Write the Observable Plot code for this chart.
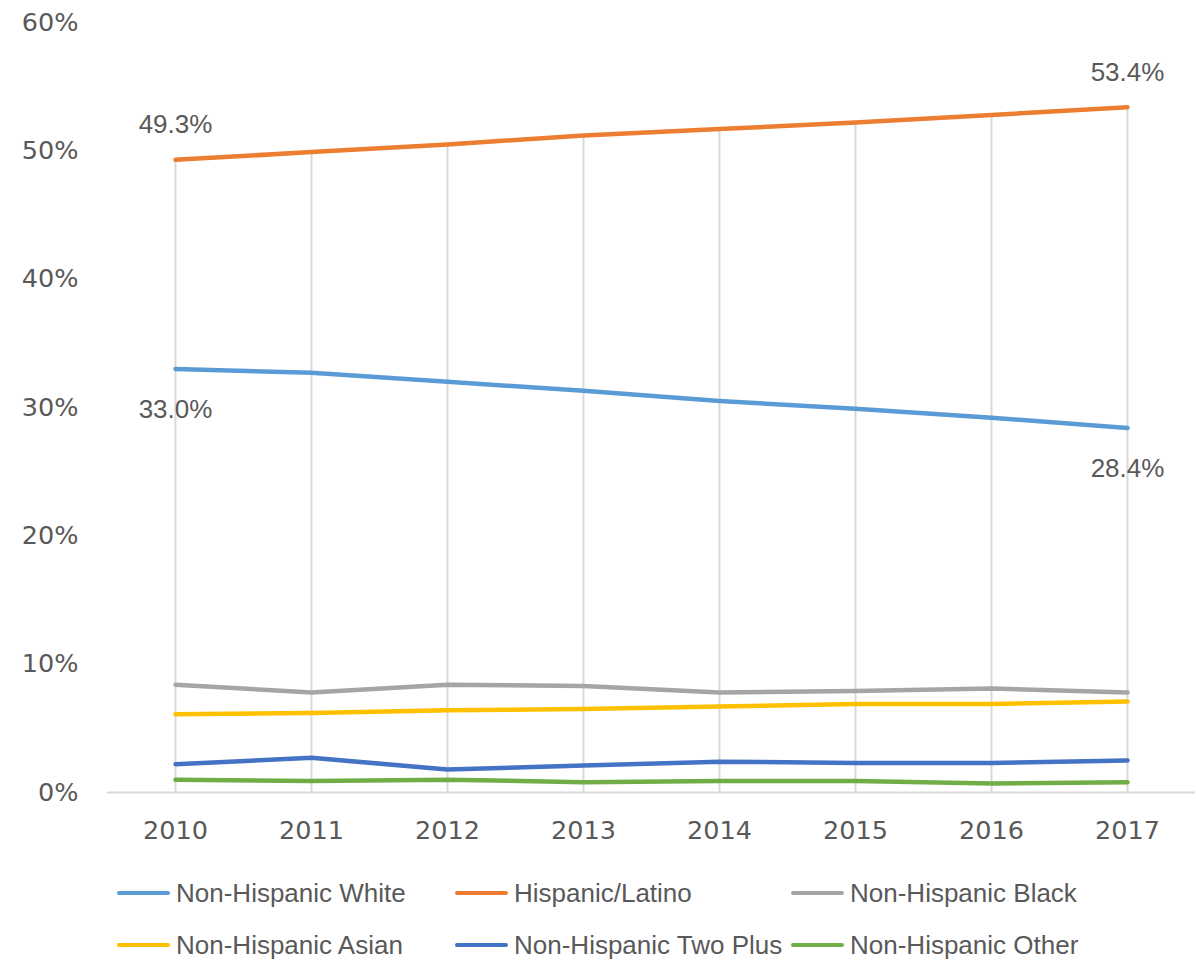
<!DOCTYPE html>
<html><head><meta charset="utf-8">
<script src="https://cdn.jsdelivr.net/npm/d3@7"></script>
<script src="https://cdn.jsdelivr.net/npm/@observablehq/plot@0.6"></script>
<style>
body{margin:0;background:#fff;}
#wrap{position:relative;width:1196px;height:960px;}
.leg{position:absolute;font-family:"Liberation Sans",Arial,sans-serif;font-size:26px;color:#595959;display:flex;align-items:center;white-space:nowrap;}
.leg span.sw{display:inline-block;width:53px;height:4px;border-radius:2px;margin-right:6px;}
</style></head>
<body><div id="wrap"></div>
<script>
const years = [2010, 2011, 2012, 2013, 2014, 2015, 2016, 2017];
const seriesNames = ["Non-Hispanic White","Hispanic/Latino","Non-Hispanic Black","Non-Hispanic Asian","Non-Hispanic Two Plus","Non-Hispanic Other"];
const seriesColors = ["#5b9bd5","#ed7d31","#a5a5a5","#ffc000","#4472c4","#70ad47"];
const white    = [33.0, 32.7, 32.0, 31.3, 30.5, 29.9, 29.2, 28.4];
const hispanic = [49.3, 49.9, 50.5, 51.2, 51.7, 52.2, 52.8, 53.4];
const black    = [8.4, 7.8, 8.4, 8.3, 7.8, 7.9, 8.1, 7.8];
const asian    = [6.1, 6.2, 6.4, 6.5, 6.7, 6.9, 6.9, 7.1];
const twoPlus  = [2.2, 2.7, 1.8, 2.1, 2.4, 2.3, 2.3, 2.5];
const other    = [1.0, 0.9, 1.0, 0.8, 0.9, 0.9, 0.7, 0.8];
const yTicks = [0, 10, 20, 30, 40, 50, 60];
const labelled = [
  {series:"Hispanic/Latino", year:2010, pos:"above"},
  {series:"Hispanic/Latino", year:2017, pos:"above"},
  {series:"Non-Hispanic White", year:2010, pos:"below"},
  {series:"Non-Hispanic White", year:2017, pos:"below"}
];

const allSeries = [white, hispanic, black, asian, twoPlus, other];
const data = [];
allSeries.forEach((vals, i) => vals.forEach((v, j) => data.push({series: seriesNames[i], year: years[j], value: v})));
const drops = years.map((y, j) => ({year: y, top: d3.max(allSeries, s => s[j])}));
const labelRows = labelled.map(l => {
  const d = data.find(r => r.series === l.series && r.year === l.year);
  return {...d, pos: l.pos};
});

const chart = Plot.plot({
  width: 1196,
  height: 860,
  marginLeft: 107,
  marginRight: 1,
  marginTop: 22,
  marginBottom: 68,
  style: {fontFamily: "DejaVu Sans, sans-serif", fontSize: "25.5px", color: "#595959", background: "#fff"},
  x: {type: "point", domain: years, padding: 0.5, label: null, tickSize: 0, tickPadding: 28, tickFormat: d => String(d)},
  y: {domain: [0, 60], ticks: yTicks, label: null, tickSize: 0, tickPadding: 29, tickFormat: d => d + "%"},
  color: {domain: seriesNames, range: seriesColors},
  marks: [
    Plot.ruleX(drops, {x: "year", y1: 0, y2: "top", stroke: "#d9d9d9", strokeWidth: 2}),
    Plot.ruleY([0], {stroke: "#d9d9d9", strokeWidth: 2}),
    Plot.lineY(data, {x: "year", y: "value", z: "series", stroke: "series", strokeWidth: 4.5, strokeLinecap: "round", strokeLinejoin: "round"}),
    Plot.text(labelRows.filter(d => d.pos === "above"), {x: "year", y: "value", text: d => d.value.toFixed(1) + "%", dy: -35, fill: "#595959", fontSize: 26, fontFamily: "Liberation Sans, Arial, sans-serif"}),
    Plot.text(labelRows.filter(d => d.pos === "below"), {x: "year", y: "value", text: d => d.value.toFixed(1) + "%", dy: 41, fill: "#595959", fontSize: 26, fontFamily: "Liberation Sans, Arial, sans-serif"})
  ]
});
const wrap = document.getElementById("wrap");
wrap.appendChild(chart);

const legPos = [[117, 893],[455, 893],[791, 893],[117, 945],[455, 945],[791, 945]];
seriesNames.forEach((n, i) => {
  const el = document.createElement("div");
  el.className = "leg";
  el.style.left = legPos[i][0] + "px";
  el.style.top = (legPos[i][1] - 16) + "px";
  el.style.height = "32px";
  el.innerHTML = `<span class="sw" style="background:${seriesColors[i]}"></span>${n}`;
  wrap.appendChild(el);
});
</script></body></html>
